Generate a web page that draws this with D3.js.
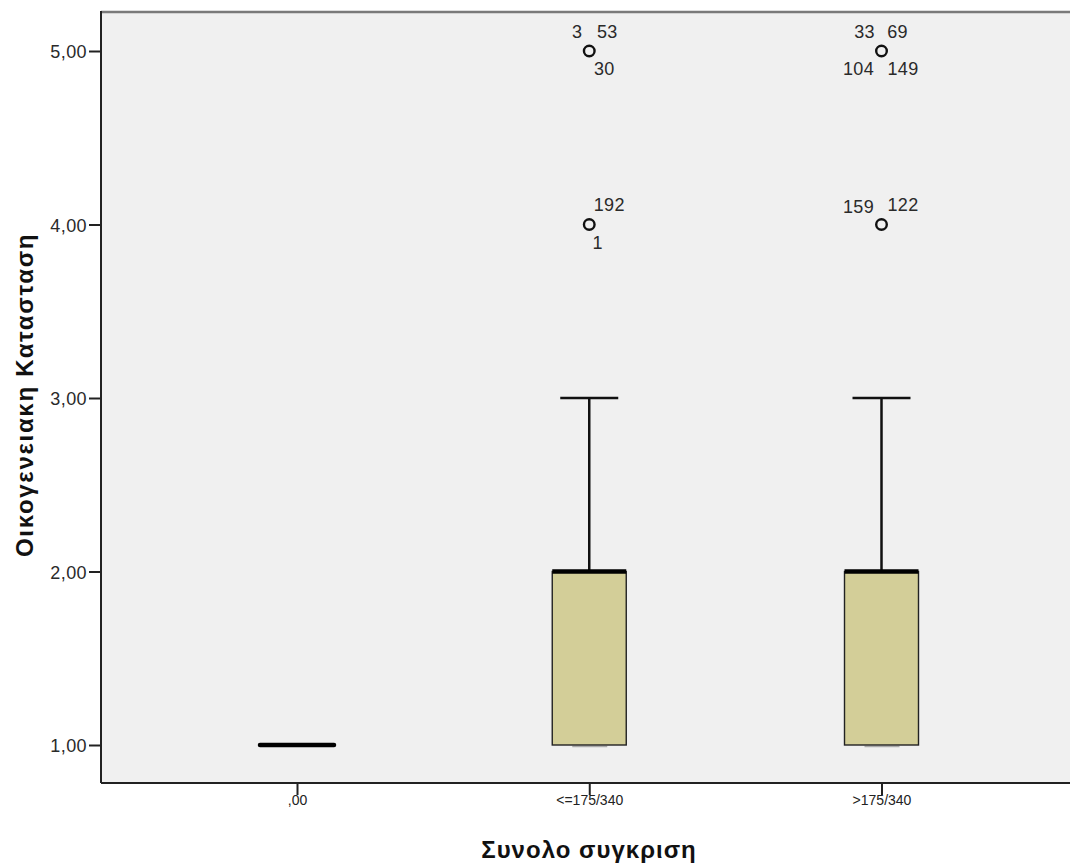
<!DOCTYPE html>
<html><head><meta charset="utf-8">
<script src="https://cdn.jsdelivr.net/npm/d3@7"></script>
<style>body{margin:0;background:#fff}</style>
</head><body>
<svg id="c" width="1070" height="868"></svg>
<script>
const categories = [",00", "<=175/340", ">175/340"];
const q1 = [1, 1, 1];
const median = [1, 2, 2];
const q3 = [1, 2, 2];
const whiskLo = [1, 1, 1];
const whiskHi = [1, 3, 3];
const outliers = [
  {cat: "<=175/340", v: 5, labels: [{t:"3", dx:-12, dy:-19}, {t:"53", dx:18, dy:-19}, {t:"30", dx:15, dy:18}]},
  {cat: "<=175/340", v: 4, labels: [{t:"192", dx:20, dy:-20}, {t:"1", dx:8.5, dy:18.5}]},
  {cat: ">175/340", v: 5, labels: [{t:"33", dx:-17, dy:-19}, {t:"69", dx:16, dy:-19}, {t:"104", dx:-23, dy:18}, {t:"149", dx:21.5, dy:18}]},
  {cat: ">175/340", v: 4, labels: [{t:"159", dx:-23, dy:-17.5}, {t:"122", dx:21.5, dy:-20}]}
];
const yTicks = [1, 2, 3, 4, 5];

const FONT = "Liberation Sans, Arial, sans-serif";
const svg = d3.select("#c");
const L = 101, T = 12, R = 1077, B = 783;
const y = d3.scaleLinear().domain([1, 5]).range([745, 51]);
const x = d3.scalePoint().domain(categories).range([297, 881.5]);
const fmt = d => d3.format(".2f")(d).replace(".", ",");

svg.append("rect").attr("x", L).attr("y", T).attr("width", R - L).attr("height", B - T).attr("fill", "#f0f0f0");
svg.append("line").attr("x1", L).attr("x2", R).attr("y1", T).attr("y2", T).attr("stroke", "#7a7a7a").attr("stroke-width", 2.5);

const gy = svg.append("g").attr("transform", `translate(${L},0)`)
  .call(d3.axisLeft(y).tickValues(yTicks).tickFormat(fmt).tickSize(12).tickSizeOuter(0));
gy.select(".domain").remove();
gy.selectAll(".tick line").attr("stroke", "#222").attr("stroke-width", 2);
gy.selectAll(".tick text").attr("font-family", FONT).attr("font-size", 18).attr("letter-spacing", 0.4).attr("fill", "#2a2a2a").attr("x", -14).attr("dy", "0.38em");
svg.append("line").attr("x1", L).attr("x2", L).attr("y1", T - 1).attr("y2", B).attr("stroke", "#222").attr("stroke-width", 2);

const gx = svg.append("g").attr("transform", `translate(0,${B})`)
  .call(d3.axisBottom(x).tickSize(12).tickSizeOuter(0));
gx.select(".domain").remove();
gx.selectAll(".tick line").attr("stroke", "#222").attr("stroke-width", 2);
gx.selectAll(".tick text").attr("font-family", FONT).attr("font-size", 14).attr("fill", "#222").attr("y", 22).attr("dy", 0);
svg.append("line").attr("x1", L).attr("x2", R).attr("y1", B).attr("y2", B).attr("stroke", "#222").attr("stroke-width", 2);

const bw = 74, cw = 58;
categories.forEach((c, i) => {
  const cx = x(c);
  if (whiskHi[i] > q3[i]) {
    svg.append("line").attr("x1", cx).attr("x2", cx).attr("y1", y(q3[i])).attr("y2", y(whiskHi[i])).attr("stroke", "#111").attr("stroke-width", 2.5);
    svg.append("line").attr("x1", cx - cw / 2).attr("x2", cx + cw / 2).attr("y1", y(whiskHi[i])).attr("y2", y(whiskHi[i])).attr("stroke", "#111").attr("stroke-width", 2.5);
  }
  if (q3[i] > q1[i]) {
    svg.append("line").attr("x1", cx - 17).attr("x2", cx + 18).attr("y1", y(whiskLo[i]) + 1.5).attr("y2", y(whiskLo[i]) + 1.5).attr("stroke", "#aaa").attr("stroke-width", 1.5);
    svg.append("rect").attr("x", cx - bw / 2).attr("y", y(q3[i])).attr("width", bw).attr("height", y(q1[i]) - y(q3[i]))
      .attr("fill", "#d3ce98").attr("stroke", "#222").attr("stroke-width", 1.4);
  }
  svg.append("line").attr("x1", cx - bw / 2).attr("x2", cx + bw / 2).attr("y1", y(median[i])).attr("y2", y(median[i]))
    .attr("stroke", "#000").attr("stroke-width", 4.5).attr("stroke-linecap", q3[i] > q1[i] ? "butt" : "round");
});

outliers.forEach(o => {
  const cx = x(o.cat), cy = y(o.v);
  svg.append("circle").attr("cx", cx).attr("cy", cy).attr("r", 5.3).attr("fill", "none").attr("stroke", "#111").attr("stroke-width", 2.4);
  o.labels.forEach(l => {
    svg.append("text").attr("x", cx + l.dx).attr("y", cy + l.dy).attr("dy", "0.36em").attr("text-anchor", "middle")
      .attr("font-family", FONT).attr("font-size", 18).attr("letter-spacing", 0.3).attr("fill", "#2a2a2a").text(l.t);
  });
});

svg.append("text").attr("transform", `translate(33,395) rotate(-90)`).attr("text-anchor", "middle")
  .attr("font-family", FONT).attr("font-weight", "bold").attr("font-size", 24).attr("letter-spacing", 1.7).attr("fill", "#111")
  .text("Οικογενειακη Κατασταση");
svg.append("text").attr("x", 589).attr("y", 858).attr("text-anchor", "middle")
  .attr("font-family", FONT).attr("font-weight", "bold").attr("font-size", 24).attr("letter-spacing", 1).attr("fill", "#111")
  .text("Συνολο συγκριση");
</script>
</body></html>
